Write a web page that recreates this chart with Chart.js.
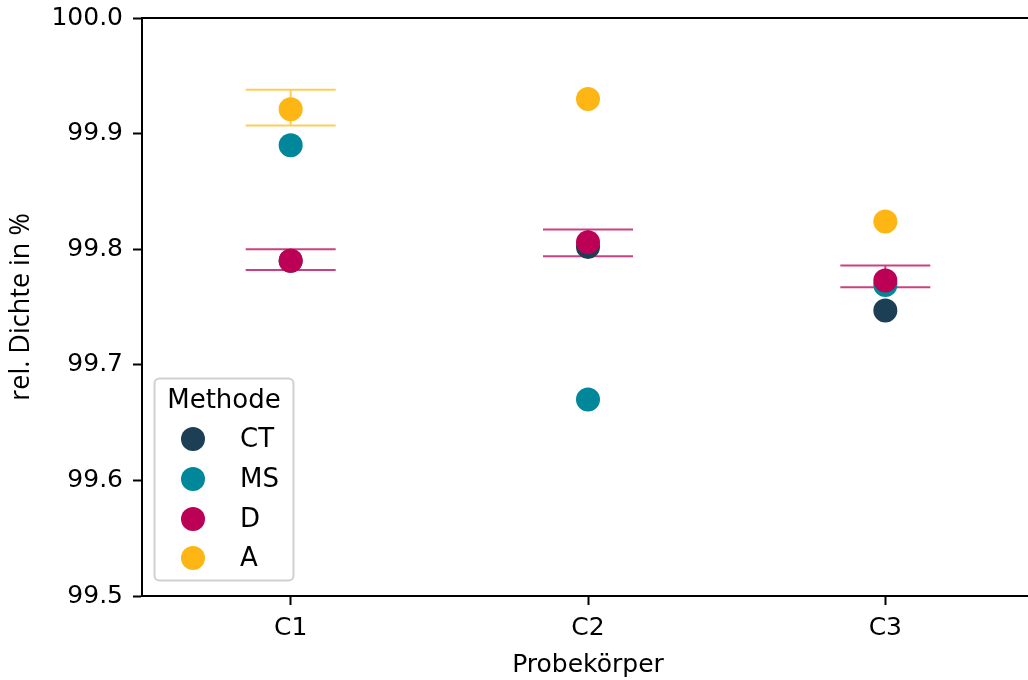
<!DOCTYPE html>
<html>
<head>
<meta charset="utf-8">
<script src="https://cdn.jsdelivr.net/npm/chart.js@4"></script>
<style>
	html, body { margin: 0; padding: 0; background: #fff; overflow: hidden; }
	#wrap { width: 1028px; height: 680px; overflow: hidden; }
	#densityChart { display: block; }
</style>
</head>
<body>
<!-- the canvas is a bit wider than the page so the right spine falls outside, as in the original -->
<div id="wrap"><canvas id="densityChart" width="1046" height="680"></canvas></div>
<script>
//data
var categories = ['C1', 'C2', 'C3'];
var methods = ['CT', 'MS', 'D', 'A'];
var ct_values = [99.790, 99.802, 99.747];
var ms_values = [99.890, 99.670, 99.769];
var d_values = [99.790, 99.806, 99.773];
var a_values = [99.921, 99.930, 99.824];

//error bars (low/high), null where there is none
var d_err_low = [99.782, 99.794, 99.767];
var d_err_high = [99.800, 99.817, 99.786];
var a_err_low = [99.907, null, null];
var a_err_high = [99.938, null, null];

var y_ticks = [99.5, 99.6, 99.7, 99.8, 99.9, 100.0];

//colors
var colors = ['#1d3f55', '#00879a', '#bb0055', '#fdb614'];
var err_colors = [null, null, 'rgba(187,0,85,0.75)', 'rgba(253,182,20,0.7)'];

var tickFont = { family: 'DejaVu Sans', size: 25 };
var ctx = document.getElementById('densityChart');

var value_sets = [ct_values, ms_values, d_values, a_values];
var err_sets = [null, null, [d_err_low, d_err_high], [a_err_low, a_err_high]];

var datasets = [];
for (var i = 0; i < methods.length; i++) {
	datasets.push({
		label: methods[i],
		data: value_sets[i],
		order: methods.length - i, //later methods drawn on top
		showLine: false,
		pointRadius: 12,
		pointHoverRadius: 12,
		pointBorderWidth: 0,
		pointBackgroundColor: colors[i],
		borderColor: colors[i],
		backgroundColor: colors[i],
		errLow: err_sets[i] ? err_sets[i][0] : null,
		errHigh: err_sets[i] ? err_sets[i][1] : null,
		errColor: err_colors[i]
	});
}

//draws error bars with caps under the points
var errorBars = {
	id: 'errorBars',
	beforeDatasetsDraw: function(chart) {
		var c = chart.ctx;
		var xs = chart.scales.x, ys = chart.scales.y;
		var capHalf = 45;
		c.save();
		chart.data.datasets.forEach(function(ds) {
			if (!ds.errLow) return;
			c.strokeStyle = ds.errColor;
			c.lineWidth = 2;
			for (var k = 0; k < ds.data.length; k++) {
				if (ds.errLow[k] == null) continue;
				var x = xs.getPixelForValue(k);
				var yl = ys.getPixelForValue(ds.errLow[k]);
				var yh = ys.getPixelForValue(ds.errHigh[k]);
				c.beginPath();
				c.moveTo(x, yl); c.lineTo(x, yh);
				c.moveTo(x - capHalf, yl); c.lineTo(x + capHalf, yl);
				c.moveTo(x - capHalf, yh); c.lineTo(x + capHalf, yh);
				c.stroke();
			}
		});
		c.restore();
	}
};

//top spine and legend box inside the plot
var frameAndLegend = {
	id: 'frameAndLegend',
	afterDraw: function(chart) {
		var c = chart.ctx;
		var a = chart.chartArea;
		c.save();
		c.strokeStyle = '#000';
		c.lineWidth = 2;
		c.beginPath();
		c.moveTo(a.left - 1, a.top);
		c.lineTo(a.right, a.top);
		c.stroke();

		//legend
		var lx = 154.5, ly = 378.5, lw = 139, lh = 202;
		c.beginPath();
		c.roundRect(lx, ly, lw, lh, 5);
		c.fillStyle = 'rgba(255,255,255,0.8)';
		c.fill();
		c.strokeStyle = '#d0d0d0';
		c.lineWidth = 2;
		c.stroke();

		c.fillStyle = '#000';
		c.font = '26px "DejaVu Sans"';
		c.textAlign = 'center';
		c.textBaseline = 'middle';
		c.fillText('Methode', lx + lw / 2, 401);

		var rowY = [439, 479, 519, 558];
		chart.data.datasets.forEach(function(ds, idx) {
			c.beginPath();
			c.arc(193, rowY[idx], 12, 0, Math.PI * 2);
			c.fillStyle = ds.pointBackgroundColor;
			c.fill();
			c.fillStyle = '#000';
			c.textAlign = 'left';
			c.fillText(ds.label, 240, rowY[idx] + 1);
		});
		c.restore();
	}
};

new Chart(ctx, {
	type: 'line',
	data: {
		labels: categories,
		datasets: datasets
	},
	options: {
		responsive: false,
		animation: false,
		layout: { padding: { top: 18, right: 0, left: 0, bottom: 0 } },
		plugins: {
			legend: { display: false },
			tooltip: { enabled: false }
		},
		scales: {
			x: {
				type: 'category',
				offset: true,
				grid: {
					display: true,
					drawOnChartArea: false,
					drawTicks: true,
					tickLength: 9,
					tickWidth: 2,
					tickColor: '#000'
				},
				border: { display: true, color: '#000', width: 2 },
				ticks: { color: '#000', font: tickFont, padding: 8 },
				title: {
					display: true,
					text: 'Probekörper',
					color: '#000',
					font: { family: 'DejaVu Sans', size: 25 },
					padding: { top: 0, bottom: 0 }
				},
				afterFit: function(scale) {
					scale.height = 84;
					scale.paddingLeft = 0;
					scale.paddingRight = 0;
				}
			},
			y: {
				min: 99.5,
				max: 100.0,
				afterBuildTicks: function(scale) {
					scale.ticks = y_ticks.map(function(v) { return { value: v }; });
				},
				grid: {
					display: true,
					drawOnChartArea: false,
					drawTicks: true,
					tickLength: 9,
					tickWidth: 2,
					tickColor: '#000'
				},
				border: { display: true, color: '#000', width: 2 },
				ticks: {
					color: '#000',
					font: tickFont,
					padding: 10,
					callback: function(v) { return Number(v).toFixed(1); }
				},
				title: {
					display: true,
					text: 'rel. Dichte in %',
					color: '#000',
					font: { family: 'Open Sans', size: 27 },
					padding: { top: 5, bottom: 0 }
				},
				afterFit: function(scale) {
					scale.width = 142;
					scale.paddingTop = 0;
					scale.paddingBottom = 0;
				}
			}
		}
	},
	plugins: [errorBars, frameAndLegend]
});
</script>
</body>
</html>
